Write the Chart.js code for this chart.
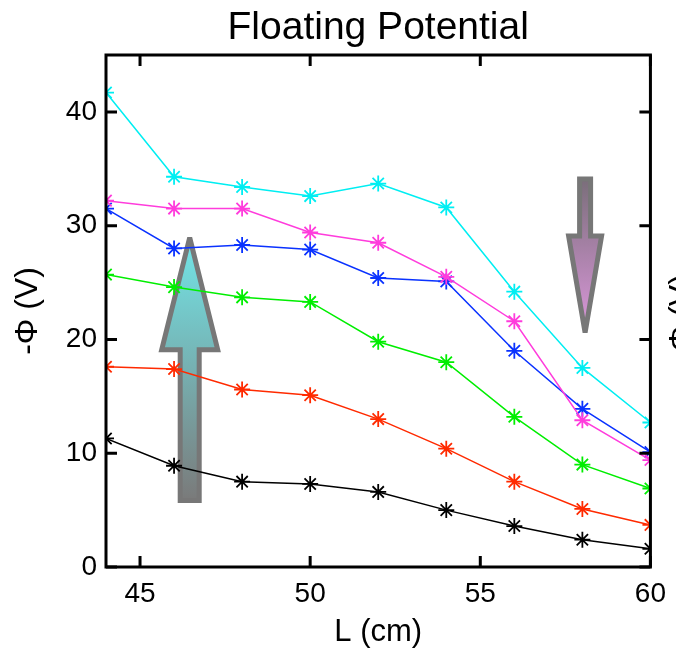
<!DOCTYPE html>
<html>
<head>
<meta charset="utf-8">
<script src="https://cdn.jsdelivr.net/npm/chart.js@4.4.1/dist/chart.umd.min.js"></script>
<style>
body{margin:0;background:#fff;}
</style>
</head>
<body>
<canvas id="myChart" width="676" height="653"></canvas>
<script>
// L positions (cm) and -Phi (V) for each run
const L_cm = [44, 46, 48, 50, 52, 54, 56, 58, 60];
const phi_cyan = [41.7, 34.3, 33.4, 32.6, 33.7, 31.6, 24.2, 17.5, 12.7];
const phi_magenta = [32.2, 31.5, 31.5, 29.4, 28.5, 25.5, 21.6, 12.9, 9.4];
const phi_blue = [31.5, 28.0, 28.3, 27.9, 25.4, 25.1, 19.0, 13.9, 10.1];
const phi_green = [25.7, 24.6, 23.7, 23.3, 19.8, 18.0, 13.2, 9.0, 6.9];
const phi_red = [17.6, 17.4, 15.6, 15.1, 13.0, 10.4, 7.5, 5.1, 3.7];
const phi_black = [11.3, 8.9, 7.5, 7.3, 6.6, 5.0, 3.6, 2.4, 1.6];
const xTicks = [45, 50, 55, 60];
const yTicks = [0, 10, 20, 30, 40];

const FONT = "'Liberation Sans', Helvetica, Arial, sans-serif";

function series(data, color){
    return {
        data: data.map((v, i) => ({x: L_cm[i], y: v})),
        borderColor: color,
        backgroundColor: color,
        borderWidth: 1.5,
        pointStyle: 'star',
        pointRadius: 8,
        pointBorderWidth: 1.8,
        tension: 0,
        clip: 0,
    };
}

// the two big arrows, in data units (x center, tail, head base, tip)
const upArrow = {x: 46.46, tail: 5.85, base: 19.1, tip: 28.95, shaft: 9.5, head: 28, c1: '#72e6e8', c2: '#7a7a7a'};
const downArrow = {x: 58.08, tail: 34.1, base: 29.1, tip: 20.6, shaft: 5.5, head: 16.5, c1: '#7a6e7a', c2: '#dc98dc'};

function drawArrow(chart, a){
    const ctx = chart.ctx;
    const xs = chart.scales.x, ys = chart.scales.y;
    const x = xs.getPixelForValue(a.x);
    const t = ys.getPixelForValue(a.tail), b = ys.getPixelForValue(a.base), p = ys.getPixelForValue(a.tip);
    ctx.save();
    ctx.beginPath();
    ctx.moveTo(x - a.shaft, t);
    ctx.lineTo(x - a.shaft, b);
    ctx.lineTo(x - a.head, b);
    ctx.lineTo(x, p);
    ctx.lineTo(x + a.head, b);
    ctx.lineTo(x + a.shaft, b);
    ctx.lineTo(x + a.shaft, t);
    ctx.closePath();
    const g = ctx.createLinearGradient(0, Math.min(t, p), 0, Math.max(t, p));
    g.addColorStop(0, a.c1);
    g.addColorStop(1, a.c2);
    ctx.fillStyle = g;
    ctx.fill();
    ctx.lineWidth = 5;
    ctx.lineJoin = 'miter';
    ctx.miterLimit = 2;
    ctx.strokeStyle = '#777777';
    ctx.stroke();
    ctx.restore();
}

const decor = {
    id: 'decor',
    beforeDatasetsDraw(chart){
        drawArrow(chart, upArrow);
        drawArrow(chart, downArrow);
    },
    afterDatasetsDraw(chart){
        const ctx = chart.ctx;
        const {left, right, top, bottom} = chart.chartArea;
        const xs = chart.scales.x, ys = chart.scales.y;
        ctx.save();
        ctx.strokeStyle = '#000';
        ctx.lineWidth = 3;
        ctx.lineCap = 'square';
        ctx.strokeRect(left, top, right - left, bottom - top);
        ctx.lineCap = 'butt';
        ctx.beginPath();
        xTicks.forEach(v => {
            const px = xs.getPixelForValue(v);
            ctx.moveTo(px, bottom); ctx.lineTo(px, bottom - 11);
            ctx.moveTo(px, top); ctx.lineTo(px, top + 11);
        });
        yTicks.forEach(v => {
            const py = ys.getPixelForValue(v);
            ctx.moveTo(left, py); ctx.lineTo(left + 11, py);
            ctx.moveTo(right, py); ctx.lineTo(right - 11, py);
        });
        ctx.stroke();
        ctx.restore();
    },
    afterDraw(chart){
        const ctx = chart.ctx;
        const {left, right} = chart.chartArea;
        ctx.save();
        ctx.fillStyle = '#000';
        ctx.font = '39px ' + FONT;
        ctx.textAlign = 'center';
        ctx.textBaseline = 'alphabetic';
        ctx.fillText('Floating Potential', (left + right) / 2, 39);
        // label of the neighbouring panel, cut by the edge
        ctx.translate(682, 318);
        ctx.rotate(-Math.PI / 2);
        ctx.font = '32px ' + FONT;
        ctx.textBaseline = 'middle';
        ctx.fillText('-\u03A6 (V)', 0, 0);
        ctx.restore();
    }
};

const ctx = document.getElementById("myChart").getContext("2d");
const myChart = new Chart(ctx, {
    type: 'line',
    data: {
        datasets: [
            series(phi_cyan, '#00eef2'),
            series(phi_magenta, '#ff3cdc'),
            series(phi_blue, '#0a32ff'),
            series(phi_green, '#00ee00'),
            series(phi_red, '#ff2a00'),
            series(phi_black, '#000000'),
        ],
    },
    options: {
        responsive: false,
        animation: false,
        layout: {padding: {left: 0, right: 21, top: 55, bottom: 0}},
        plugins: {
            legend: {display: false},
            tooltip: {enabled: false},
        },
        scales: {
            x: {
                type: 'linear',
                min: 44,
                max: 60,
                afterBuildTicks: s => { s.ticks = xTicks.map(v => ({value: v})); },
                afterFit: s => { s.height = 86; },
                grid: {display: false, drawTicks: false},
                border: {display: false},
                ticks: {color: '#000', font: {family: FONT, size: 28}, padding: 10, maxRotation: 0},
                title: {display: true, text: 'L (cm)', color: '#000', font: {family: FONT, size: 31}, padding: {top: 0, bottom: 2}},
            },
            y: {
                type: 'linear',
                min: 0,
                max: 45,
                afterBuildTicks: s => { s.ticks = yTicks.map(v => ({value: v})); },
                afterFit: s => { s.width = 106; },
                grid: {display: false, drawTicks: false},
                border: {display: false},
                ticks: {color: '#000', font: {family: FONT, size: 28}, padding: 9},
                title: {display: true, text: '-\u03A6 (V)', color: '#000', font: {family: FONT, size: 32}, padding: {top: 9, bottom: 0}},
            },
        },
    },
    plugins: [decor],
});
</script>
</body>
</html>
